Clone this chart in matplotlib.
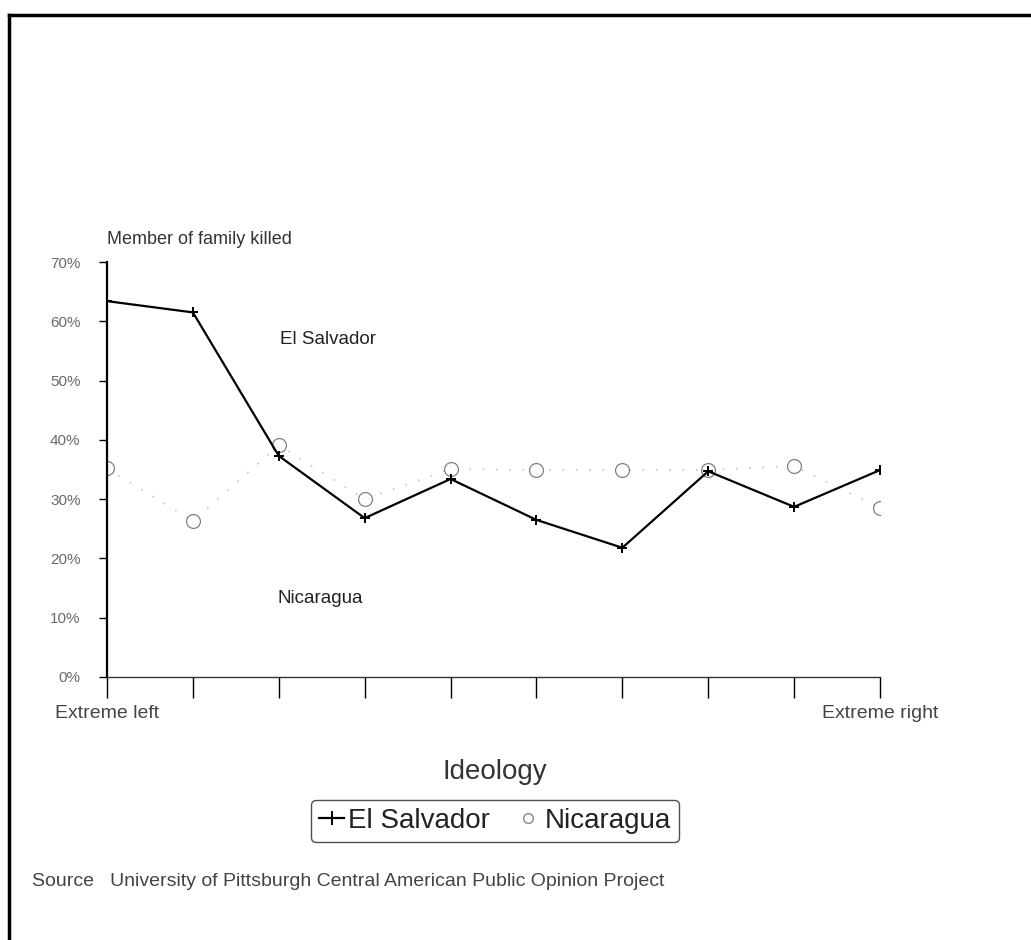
import matplotlib
matplotlib.use("Agg")
from matplotlib import pyplot as plt
from matplotlib.lines import Line2D
import numpy as np

plt.rcParams['font.family'] = ['Liberation Sans Narrow', 'Liberation Sans', 'DejaVu Sans']

positions = list(range(10))
x_labels = ["Extreme left", "", "", "", "", "", "", "", "", "Extreme right"]
el_salvador = [63.4, 61.5, 37.3, 26.8, 33.4, 26.5, 21.8, 34.7, 28.7, 34.9]
nicaragua = [35.2, 26.3, 39.1, 30.0, 35.1, 34.9, 34.9, 34.9, 35.6, 28.5]
y_ticks = [0, 10, 20, 30, 40, 50, 60, 70]

W, H = 1031, 940
fig = plt.figure(figsize=(W / 100, H / 100), dpi=100)
ax = fig.add_axes([107 / W, (H - 677) / H, 773 / W, 415 / H])

# faint dotted line behind Nicaragua points, like the photocopy
ax.plot(positions, nicaragua, linestyle=(0, (1, 7)), color='#c4c4c4', lw=1.2,
        marker='o', mfc='white', mec='#808080', ms=10, mew=0.9,
        label='Nicaragua', zorder=2)
ax.plot(positions, el_salvador, '-', color='black', lw=1.6,
        marker='+', ms=7, mew=1.4, label='El Salvador', zorder=3)

ax.set_xlim(0, 9)
ax.set_ylim(0, 70)
ax.set_yticks(y_ticks)
ax.set_yticklabels([f"{v}%" for v in y_ticks], fontsize=11, color='#6a6a6a')
ax.set_xticks(positions)
ax.set_xticklabels(x_labels, fontsize=14, color='#444444')
ax.tick_params(axis='x', length=15, width=1, pad=5)
ax.tick_params(axis='y', length=6, width=1, pad=13)
for s in ['top', 'right']:
    ax.spines[s].set_visible(False)
ax.spines['left'].set_linewidth(1.6)
ax.spines['bottom'].set_linewidth(1.0)
ax.spines['bottom'].set_color('#333333')

ax.text(0, 72.3, "Member of family killed", fontsize=13, color='#333333',
        ha='left', va='bottom')
ax.text(2.02, 57, "El Salvador", fontsize=13.5, color='#222222', ha='left', va='center')
ax.text(1.98, 13.2, "Nicaragua", fontsize=13.5, color='#222222', ha='left', va='center')

fig.text(495 / W, 1 - 779 / H, "Ideology", fontsize=20, color='#333333',
         ha='center', va='baseline')

handles = [Line2D([], [], color='black', lw=1.6, marker='+', ms=10, mew=1.4),
           Line2D([], [], ls='none', marker='o', mfc='white', mec='#888888', ms=7)]
leg = fig.legend(handles, ['El Salvador', 'Nicaragua'], loc='center',
                 bbox_to_anchor=(495 / W, 1 - 821 / H), ncol=2, fontsize=20,
                 frameon=True, fancybox=True, edgecolor='#222222',
                 handlelength=0.9, handletextpad=0.15, columnspacing=0.9,
                 borderpad=0.3, borderaxespad=0)
leg.get_frame().set_linewidth(1.0)
for t in leg.get_texts():
    t.set_color('#222222')

fig.text(32 / W, 1 - 882 / H,
         "Source   University of Pittsburgh Central American Public Opinion Project",
         fontsize=14, color='#444444', ha='left', va='center')

# page frame (top and left edges)
fig.add_artist(Line2D([9 / W, 1.0], [1 - 15 / H, 1 - 15 / H], color='black', lw=2.5,
                      transform=fig.transFigure))
fig.add_artist(Line2D([9 / W, 9 / W], [1 - 15 / H, 0.0], color='black', lw=2.5,
                      transform=fig.transFigure))

fig.savefig("out.png", dpi=100)
